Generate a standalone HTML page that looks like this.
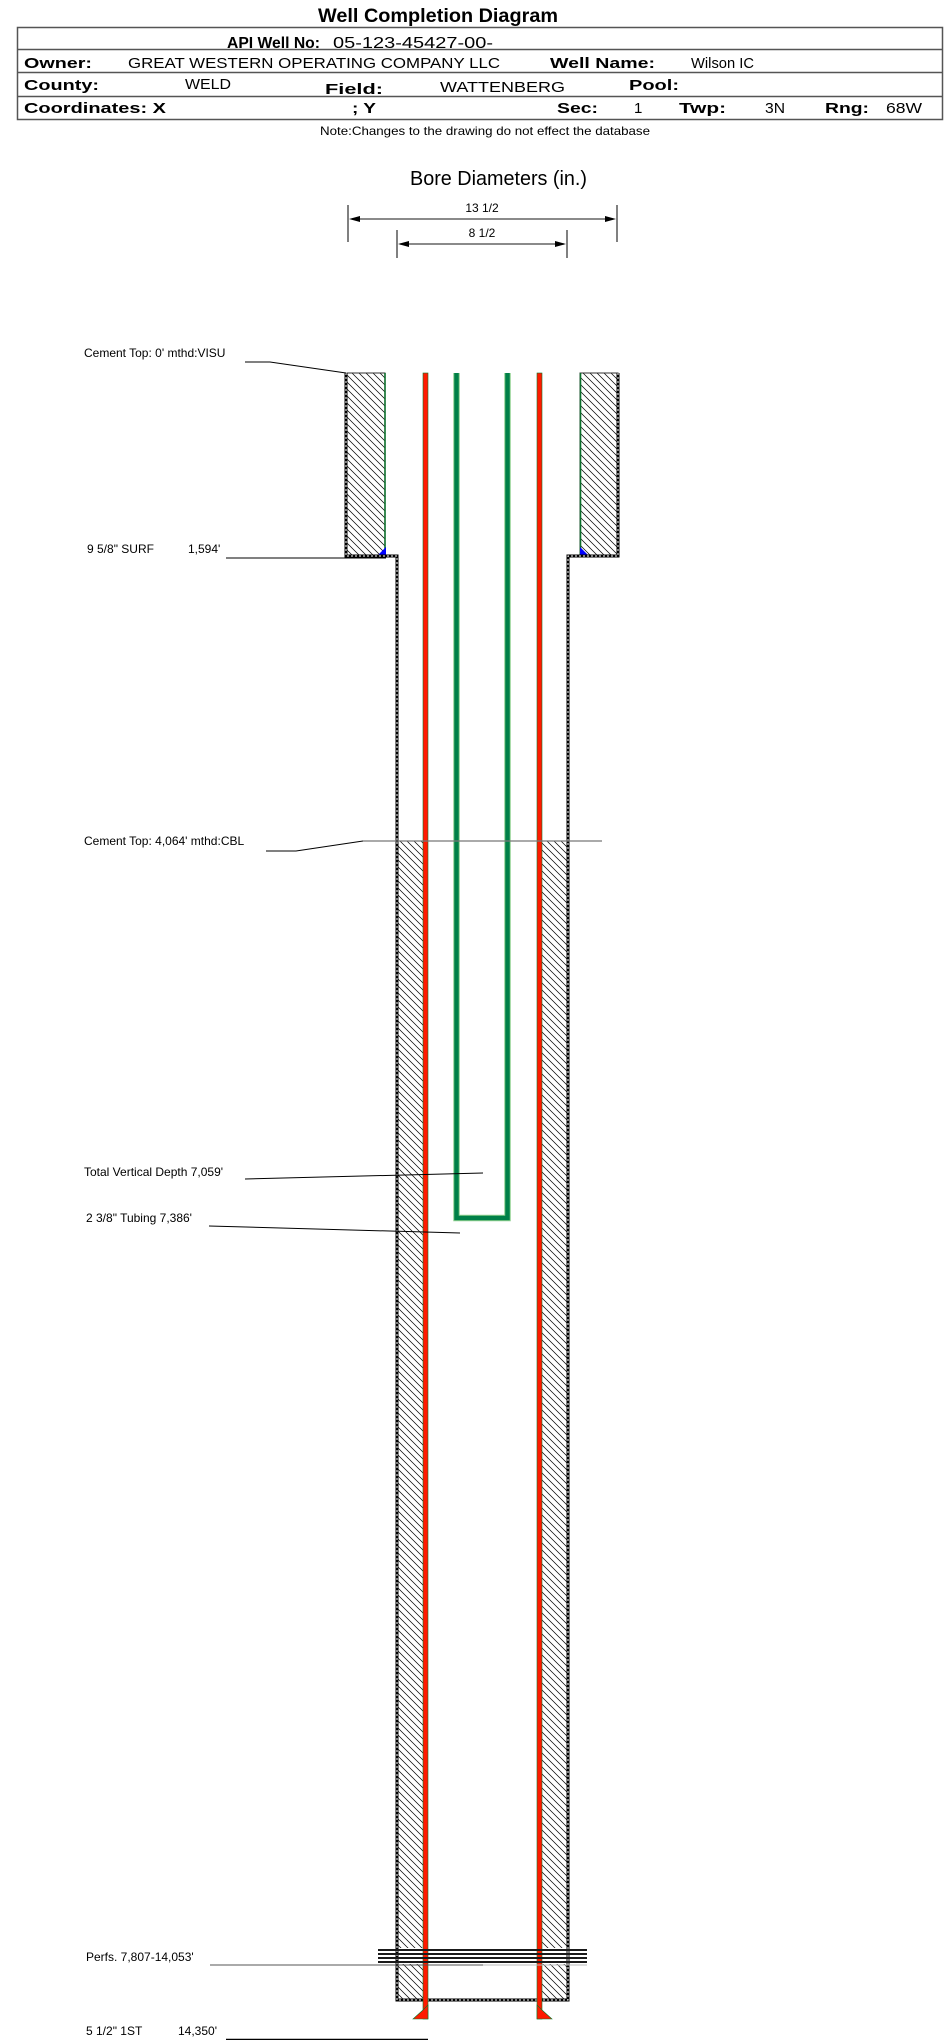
<!DOCTYPE html>
<html><head><meta charset="utf-8"><style>
html,body{margin:0;padding:0;background:#fff;}
svg{display:block;}
text{font-family:"Liberation Sans",Arial,sans-serif;fill:#000;}
.b{font-weight:bold;}
</style></head><body>
<svg width="948" height="2040" viewBox="0 0 948 2040" xmlns="http://www.w3.org/2000/svg">
<defs>
<pattern id="h" patternUnits="userSpaceOnUse" width="7" height="7">
<path d="M-1,-1 L8,8 M-1,6 L1,8 M6,-1 L8,1" stroke="#000" stroke-width="0.7"/>
</pattern>
</defs>
<!-- Header -->
<text x="318" y="22" class="b" font-size="19" textLength="240" lengthAdjust="spacingAndGlyphs">Well Completion Diagram</text>
<rect x="17.5" y="27.5" width="925" height="92" fill="none" stroke="#555" stroke-width="1.5"/>
<line x1="17" y1="49.5" x2="943" y2="49.5" stroke="#555" stroke-width="1.5"/>
<line x1="17" y1="72.5" x2="943" y2="72.5" stroke="#555" stroke-width="1.5"/>
<line x1="17" y1="96.5" x2="943" y2="96.5" stroke="#555" stroke-width="1.5"/>
<text x="227" y="48" class="b" font-size="16" textLength="93" lengthAdjust="spacingAndGlyphs">API Well No:</text>
<text x="333" y="48" font-size="16" textLength="160" lengthAdjust="spacingAndGlyphs">05-123-45427-00-</text>
<text x="24" y="68" class="b" font-size="15" textLength="68" lengthAdjust="spacingAndGlyphs">Owner:</text>
<text x="128" y="68" font-size="15" textLength="372" lengthAdjust="spacingAndGlyphs">GREAT WESTERN OPERATING COMPANY LLC</text>
<text x="550" y="68" class="b" font-size="15" textLength="105" lengthAdjust="spacingAndGlyphs">Well Name:</text>
<text x="691" y="68" font-size="15" textLength="63" lengthAdjust="spacingAndGlyphs">Wilson IC</text>
<text x="24" y="90" class="b" font-size="15" textLength="75" lengthAdjust="spacingAndGlyphs">County:</text>
<text x="185" y="89" font-size="15" textLength="46" lengthAdjust="spacingAndGlyphs">WELD</text>
<text x="325" y="94" class="b" font-size="15" textLength="58" lengthAdjust="spacingAndGlyphs">Field:</text>
<text x="440" y="92" font-size="15" textLength="125" lengthAdjust="spacingAndGlyphs">WATTENBERG</text>
<text x="629" y="90" class="b" font-size="15" textLength="50" lengthAdjust="spacingAndGlyphs">Pool:</text>
<text x="24" y="113" class="b" font-size="15" textLength="142" lengthAdjust="spacingAndGlyphs">Coordinates: X</text>
<text x="352" y="113" class="b" font-size="15" textLength="24" lengthAdjust="spacingAndGlyphs">; Y</text>
<text x="557" y="113" class="b" font-size="15" textLength="41" lengthAdjust="spacingAndGlyphs">Sec:</text>
<text x="634" y="113" font-size="15">1</text>
<text x="679" y="113" class="b" font-size="15" textLength="47" lengthAdjust="spacingAndGlyphs">Twp:</text>
<text x="765" y="113" font-size="15" textLength="20" lengthAdjust="spacingAndGlyphs">3N</text>
<text x="825" y="113" class="b" font-size="15" textLength="44" lengthAdjust="spacingAndGlyphs">Rng:</text>
<text x="886" y="113" font-size="15" textLength="36" lengthAdjust="spacingAndGlyphs">68W</text>
<text x="320" y="135" font-size="12" textLength="330" lengthAdjust="spacingAndGlyphs">Note:Changes to the drawing do not effect the database</text>

<!-- Bore diameters -->
<text x="410" y="185" font-size="20" textLength="177" lengthAdjust="spacingAndGlyphs">Bore Diameters (in.)</text>
<line x1="348" y1="205" x2="348" y2="242" stroke="#000"/>
<line x1="617" y1="205" x2="617" y2="242" stroke="#000"/>
<line x1="352" y1="219" x2="613" y2="219" stroke="#444" stroke-width="1.2"/>
<polygon points="349,219 360,216 360,222" fill="#000"/>
<polygon points="616,219 605,216 605,222" fill="#000"/>
<text x="482" y="212" font-size="12" text-anchor="middle">13 1/2</text>
<line x1="397" y1="230" x2="397" y2="258" stroke="#000"/>
<line x1="567" y1="230" x2="567" y2="258" stroke="#000"/>
<line x1="400" y1="244" x2="564" y2="244" stroke="#444" stroke-width="1.2"/>
<polygon points="398,244 409,241 409,247" fill="#000"/>
<polygon points="566,244 555,241 555,247" fill="#000"/>
<text x="482" y="237" font-size="12" text-anchor="middle">8 1/2</text>

<!-- cement blocks surface -->
<rect x="347" y="373" width="38" height="182" fill="url(#h)" stroke="#333" stroke-width="1"/>
<rect x="580" y="373" width="38" height="182" fill="url(#h)" stroke="#333" stroke-width="1"/>
<!-- cement annulus -->
<rect x="398" y="841" width="25" height="1159" fill="url(#h)"/>
<rect x="542" y="841" width="26" height="1159" fill="url(#h)"/>

<!-- surface casing lines -->
<line x1="385" y1="373" x2="385" y2="555" stroke="#0a6e2a" stroke-width="1.6"/>
<line x1="580.5" y1="373" x2="580.5" y2="555" stroke="#0a6e2a" stroke-width="1.6"/>
<polygon points="378,555 386,555 386,547" fill="#0000ff"/>
<polygon points="580,555 588,555 580,547" fill="#0000ff"/>

<!-- perf background -->
<rect x="378" y="1948" width="209" height="16" fill="#fff"/>

<!-- hole outline -->
<path d="M346,373 L346,556 L397,556 L397,2000 L568,2000 L568,556 L618,556 L618,373" fill="none" stroke="#000" stroke-width="3"/>
<path d="M346,373 L346,556 L397,556 L397,2000 L568,2000 L568,556 L618,556 L618,373" fill="none" stroke="#fff" stroke-width="1" stroke-dasharray="2,2"/>

<!-- production casing -->
<rect x="423" y="373" width="5" height="1646" fill="#ff1a00" stroke="#0a7a2a" stroke-width="0.6"/>
<rect x="537" y="373" width="5" height="1646" fill="#ff1a00" stroke="#0a7a2a" stroke-width="0.6"/>
<polygon points="413,2019 428,2019 428,2005 423,2010" fill="#ff1a00" stroke="#0a7a2a" stroke-width="0.6"/>
<polygon points="537,2019 552,2019 542,2010 537,2005" fill="#ff1a00" stroke="#0a7a2a" stroke-width="0.6"/>

<!-- tubing -->
<path d="M456.5,373 L456.5,1218 L507.5,1218 L507.5,373" fill="none" stroke="#8fd18f" stroke-width="6.5"/>
<path d="M456.5,373 L456.5,1218 L507.5,1218 L507.5,373" fill="none" stroke="#008048" stroke-width="4.5"/>

<!-- perfs -->
<g stroke="#1a1a1a" stroke-width="2">
<line x1="378" y1="1950" x2="587" y2="1950"/>
<line x1="378" y1="1954" x2="587" y2="1954"/>
<line x1="378" y1="1958" x2="587" y2="1958"/>
<line x1="378" y1="1962" x2="587" y2="1962"/>
</g>

<!-- labels -->
<g font-size="12">
<text x="84" y="357">Cement Top: 0' mthd:VISU</text>
<text x="87" y="553">9 5/8" SURF</text>
<text x="188" y="553">1,594'</text>
<text x="84" y="845">Cement Top: 4,064' mthd:CBL</text>
<text x="84" y="1176">Total Vertical Depth 7,059'</text>
<text x="86" y="1222">2 3/8" Tubing 7,386'</text>
<text x="86" y="1961">Perfs. 7,807-14,053'</text>
<text x="86" y="2035">5 1/2" 1ST</text>
<text x="178" y="2035">14,350'</text>
</g>
<g fill="none" stroke="#000" stroke-width="1">
<polyline points="245,362 270,362 346,373"/>
<line x1="226" y1="558" x2="386" y2="558"/>
<polyline points="266,851 296,851 363,841"/>
<line x1="363" y1="841" x2="602" y2="841" stroke="#777" stroke-width="1.3"/>
<line x1="245" y1="1179" x2="483" y2="1173"/>
<line x1="209" y1="1226" x2="460" y2="1233"/>
<line x1="210" y1="1965" x2="483" y2="1965" stroke="#555"/>
<line x1="483" y1="1965" x2="587" y2="1965" stroke="#bbb"/>
<line x1="226" y1="2039.5" x2="428" y2="2039.5" stroke-width="1.5"/>
</g>
</svg>
</body></html>
